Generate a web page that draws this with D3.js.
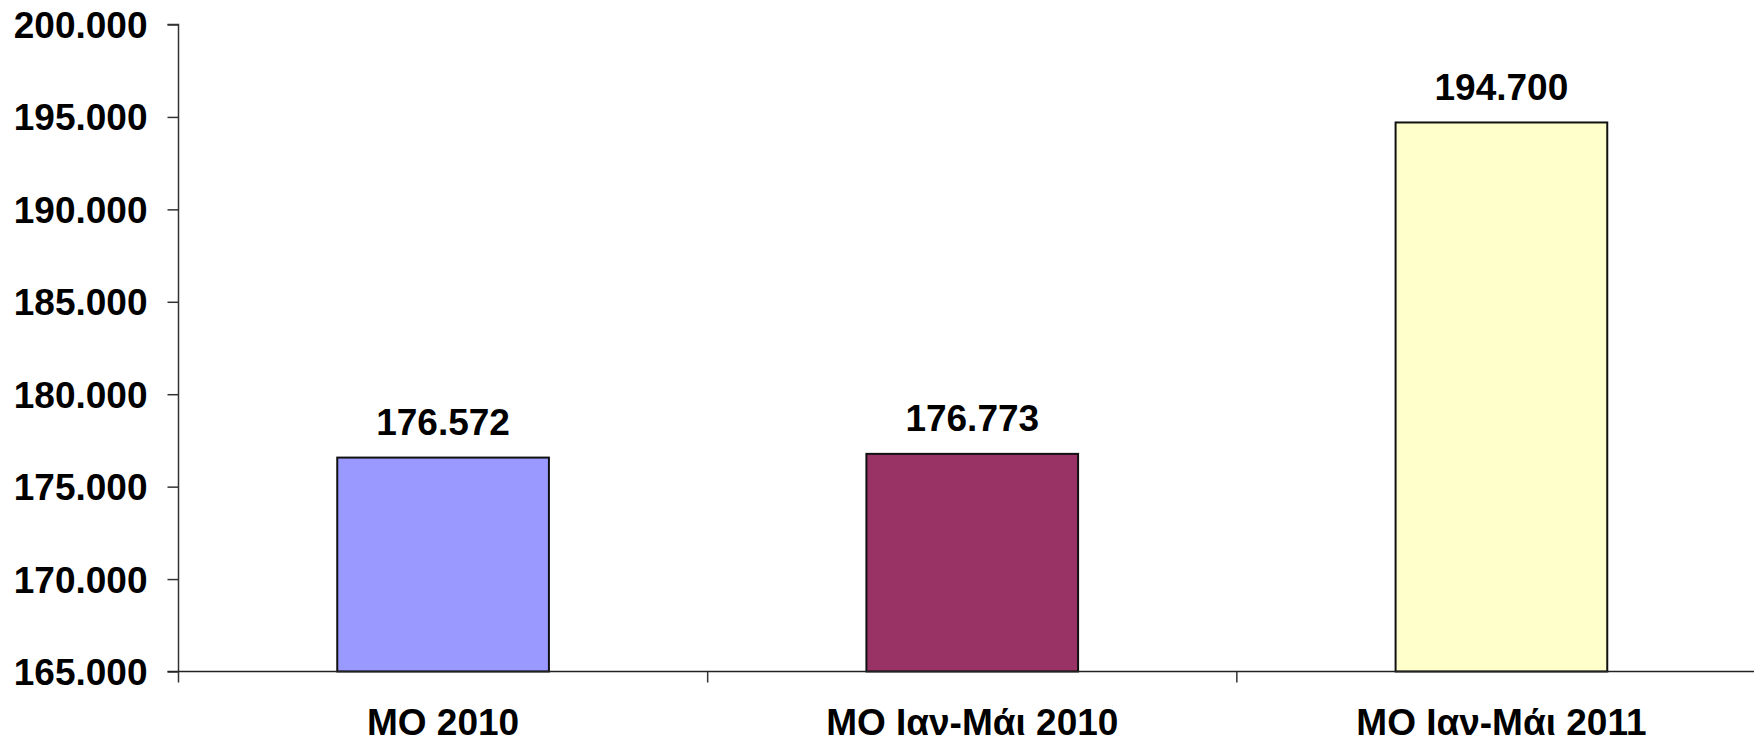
<!DOCTYPE html>
<html>
<head>
<meta charset="utf-8">
<script src="https://cdn.jsdelivr.net/npm/d3@7"></script>
<style>
  html, body { margin: 0; padding: 0; background: #fff; }
  svg { display: block; }
  text { font-family: "Liberation Sans", Arial, sans-serif; font-weight: bold; fill: #000; }
</style>
</head>
<body>
<svg id="chart" width="1754" height="743"></svg>
<script>
const categories = ["MO 2010", "MO Ιαν-Μάι 2010", "MO Ιαν-Μάι 2011"];
const values = [176572, 176773, 194700];
const valueLabels = ["176.572", "176.773", "194.700"];
const barColors = ["#9999FF", "#993366", "#FFFFCC"];
const yTicks = [165000, 170000, 175000, 180000, 185000, 190000, 195000, 200000];
const yTickLabels = ["165.000", "170.000", "175.000", "180.000", "185.000", "190.000", "195.000", "200.000"];

const svg = d3.select("#chart");
const W = 1754;
const FS = "37px";
const mLeft = 178.5, mRight = 1766, mTop = 24.5, mBottom = 671.5;

const y = d3.scaleLinear().domain([165000, 200000]).range([mBottom, mTop]);
const x = d3.scaleBand().domain(categories).range([mLeft, mRight]).paddingInner(0.6).paddingOuter(0.3);

// y axis
const yAxis = d3.axisLeft(y).tickValues(yTicks)
  .tickFormat((d, i) => yTickLabels[i]).tickSize(11).tickPadding(20);
const gy = svg.append("g").attr("transform", `translate(${mLeft},0)`).call(yAxis);
gy.select(".domain").attr("stroke", "#333").attr("stroke-width", 1.5).attr("d", `M-11,${mTop}H0V${mBottom}`);
gy.selectAll(".tick line").attr("stroke", "#333").attr("stroke-width", 1.5);
gy.selectAll(".tick text").style("font-size", FS).attr("fill", "#000")
  .attr("font-family", null).attr("dy", "0.35em");

// bars
svg.selectAll("rect.bar").data(values).enter().append("rect")
  .attr("class", "bar")
  .attr("x", (d, i) => x(categories[i]))
  .attr("width", x.bandwidth())
  .attr("y", d => y(d))
  .attr("height", d => mBottom - y(d))
  .attr("fill", (d, i) => barColors[i])
  .attr("stroke", "#111")
  .attr("stroke-width", 2);

// x axis line and ticks
const catBounds = categories.map((c, i) => mLeft + i * (mRight - mLeft) / categories.length);
svg.append("line").attr("x1", mLeft - 11).attr("x2", W).attr("y1", mBottom).attr("y2", mBottom)
  .attr("stroke", "#222").attr("stroke-width", 1.5);
svg.selectAll("line.xtick").data(catBounds).enter().append("line")
  .attr("class", "xtick")
  .attr("x1", d => d).attr("x2", d => d)
  .attr("y1", mBottom).attr("y2", mBottom + 11)
  .attr("stroke", "#333").attr("stroke-width", 1.5);

// category labels
svg.selectAll("text.cat").data(categories).enter().append("text")
  .attr("class", "cat")
  .attr("x", d => x(d) + x.bandwidth() / 2)
  .attr("y", 735)
  .attr("text-anchor", "middle")
  .style("font-size", FS)
  .text(d => d);

// value labels
svg.selectAll("text.val").data(values).enter().append("text")
  .attr("class", "val")
  .attr("x", (d, i) => x(categories[i]) + x.bandwidth() / 2)
  .attr("y", d => y(d) - 22.5)
  .attr("text-anchor", "middle")
  .style("font-size", FS)
  .text((d, i) => valueLabels[i]);
</script>
</body>
</html>
